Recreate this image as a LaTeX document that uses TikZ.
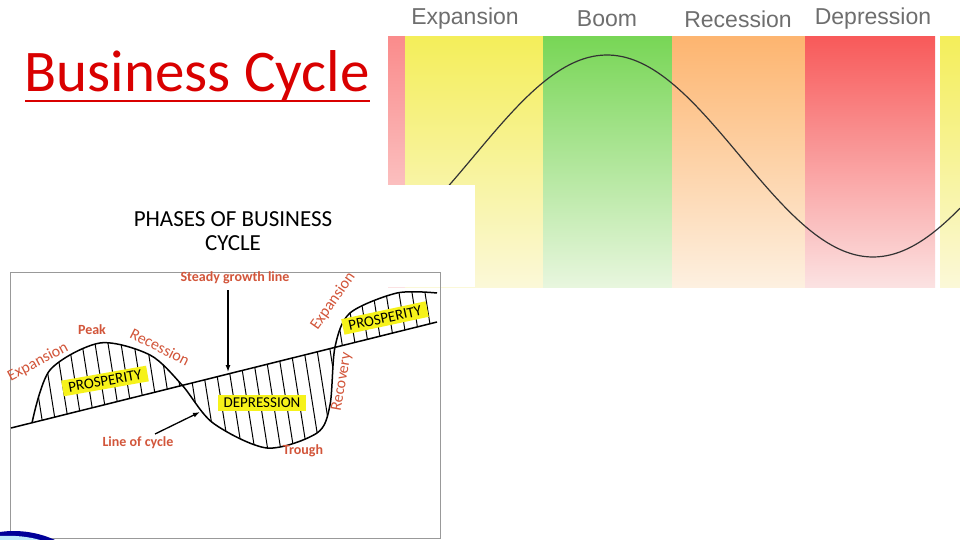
\documentclass[tikz,border=0pt]{standalone}
\usepackage{fontspec}
\setmainfont{Carlito}
\newfontfamily\arialf{Liberation Sans}
\definecolor{lbl}{HTML}{D2553A}
\definecolor{hdr}{HTML}{6E6E6E}
\definecolor{ylA}{HTML}{F4EE5A}\definecolor{ylB}{HTML}{FBF8D8}
\definecolor{grA}{HTML}{78D656}\definecolor{grB}{HTML}{E8F6DE}
\definecolor{orA}{HTML}{FDB570}\definecolor{orB}{HTML}{FDF0E0}
\definecolor{rdA}{HTML}{F85A5A}\definecolor{rdB}{HTML}{FBE2E2}
\definecolor{hl}{HTML}{F6F21A}
\tikzset{
 hdrtxt/.style={font=\arialf\fontsize{23}{23}\selectfont,text=hdr},
 ltxt/.style={font=\bfseries\fontsize{14}{14}\selectfont,text=lbl,inner sep=0pt},
 ntxt/.style={font=\fontsize{16}{16}\selectfont,text=lbl,inner sep=0pt},
 hbox/.style={fill=hl,font=\fontsize{15}{15}\selectfont,inner xsep=6pt,inner ysep=3pt,text=black},
 arr/.style={-{Latex[length=7pt,width=5pt]},line width=1.3pt}
}
\usetikzlibrary{arrows.meta}
\begin{document}
\begin{tikzpicture}[x=1pt,y=-1pt]
\useasboundingbox (0,0) rectangle (960,540);
\fill[white] (0,0) rectangle (960,540);
% top-right chart
\shade[top color=rdA!70,bottom color=rdB] (388,37) rectangle (405,287);
\shade[top color=ylA,bottom color=ylB] (405,37) rectangle (543,287);
\shade[top color=grA,bottom color=grB] (543,37) rectangle (672,287);
\shade[top color=orA,bottom color=orB] (672,37) rectangle (805,287);
\shade[top color=rdA,bottom color=rdB] (805,37) rectangle (935,287);
\shade[top color=ylA,bottom color=ylB] (940,37) rectangle (960,287);
\node[hdrtxt] (h1) at (465,19) {Expansion};
\node[hdrtxt] (h2) at (607,19) {Boom};
\node[hdrtxt] (h3) at (738,19) {Recession};
\node[hdrtxt] (h4) at (873,19) {Depression};
\draw[line width=1.2pt,black!80] plot[domain=445:960,samples=120,smooth] (\x,{156-101*cos((\x-607)/266*180)});
\fill[white] (388,185) rectangle (475,287);
% title
\node[font=\fontsize{59}{59}\selectfont,text=red!85!black,inner sep=0pt] (title) at (197,76) {Business Cycle};
\draw[red!85!black,line width=1.8pt] (25,101) -- (370,101);
\node[font=\fontsize{23}{24}\selectfont,align=center,inner sep=0pt] (sub) at (233,231) {PHASES OF BUSINESS\\CYCLE};
% left diagram box
\draw[black!40] (10,272) rectangle (440,538);
\fill[blue!60!black] (0,532) .. controls (20,529) and (40,533) .. (55,540) -- (0,540) -- cycle;
\fill[cyan!25] (0,536) .. controls (15,535) and (30,537) .. (40,540) -- (0,540) -- cycle;
\begin{scope}[even odd rule]
\clip plot[smooth] coordinates {(32,423)(50,370)(100,343)(150,355)(182,385)(213,423)(267,448)(317,433)(330,405)(335,347)(350,313)(397,293)(437,293)} -- (437,322) -- cycle;
\foreach \x in {20,33,...,440} \draw[line width=1pt] (\x,280) -- (\x+30,470);
\end{scope}
\draw[line width=1.5pt] (11,428) -- (437,322);
\draw[line width=1.5pt] plot[smooth] coordinates {(32,423)(50,370)(100,343)(150,355)(182,385)(213,423)(267,448)(317,433)(330,405)(335,347)(350,313)(397,293)(437,293)};
\node[hbox,rotate=10] (p1) at (105,381) {PROSPERITY};
\node[hbox] (dep) at (262,403) {DEPRESSION};
\node[hbox,rotate=12] (p2) at (385,318) {PROSPERITY};
\node[ltxt] (sg) at (235,278) {Steady growth line};
\coordinate (sgt) at (228,372);
\draw[arr] (228,290) -- (sgt);
\node[ltxt] (lc) at (138,443) {Line of cycle};
\coordinate (lct) at (200,412);
\draw[arr] (155,434) -- (lct);
\node[ltxt] (pk) at (92,330) {Peak};
\node[ltxt] (tr) at (303,451) {Trough};
\node[ntxt,rotate=-27] (rc) at (160,347) {Recession};
\node[ntxt,rotate=28] (e1) at (38,362) {Expansion};
\node[ntxt,rotate=55] (e2) at (333,301) {Expansion};
\node[ntxt,rotate=80] (rv) at (342,382) {Recovery};
\end{tikzpicture}
\end{document}
